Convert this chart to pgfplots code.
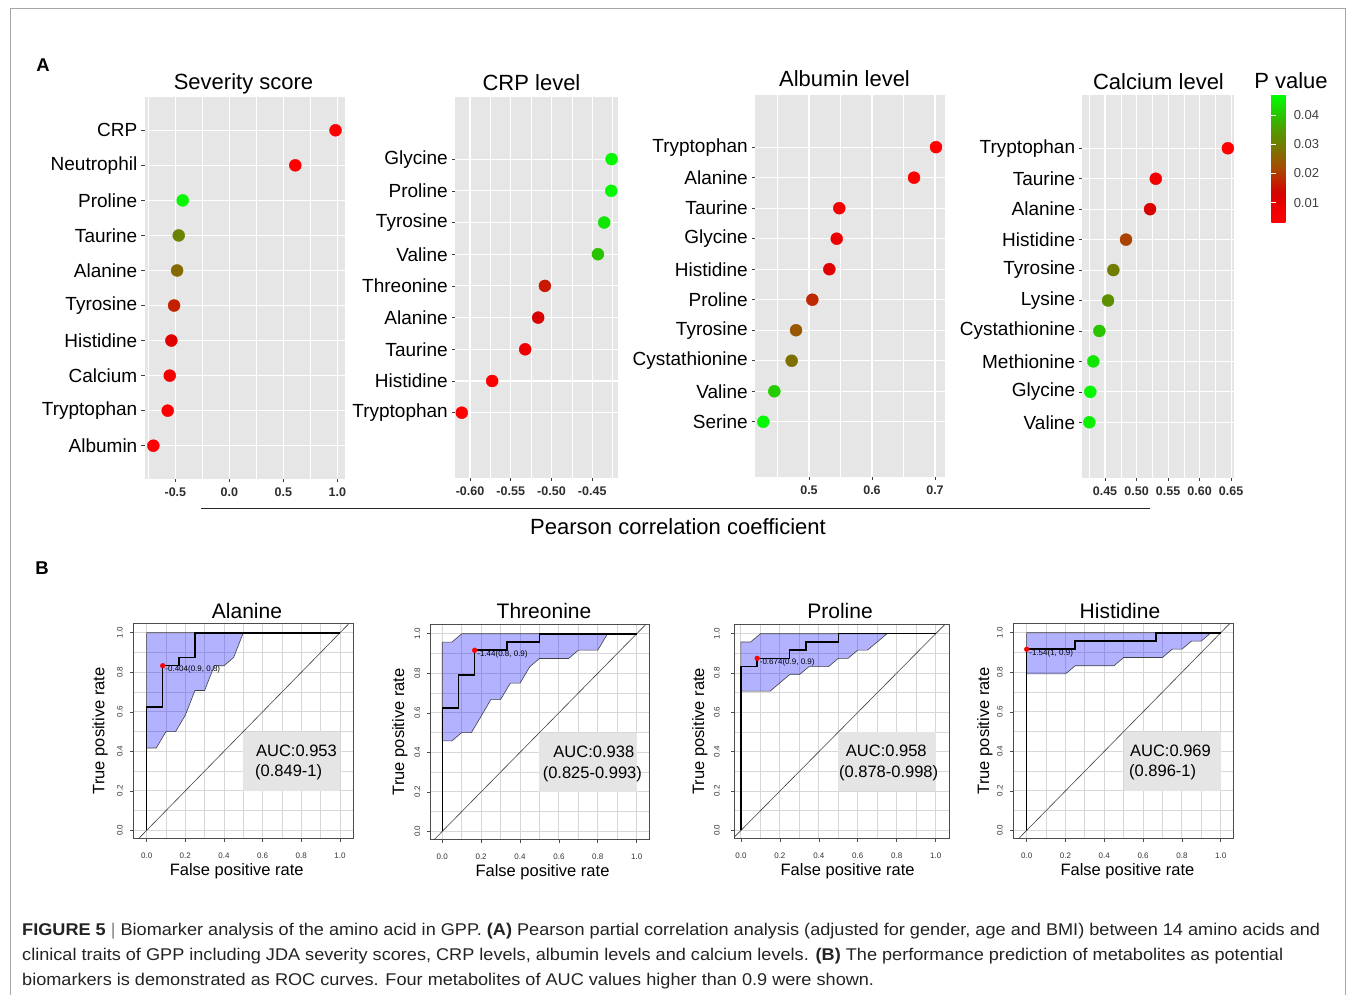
\documentclass[border=0pt]{standalone}
\usepackage{fontspec}
\setmainfont{Liberation Sans}
\usepackage{pgfplots}
\pgfplotsset{compat=1.18}
\usepackage{graphicx}

\definecolor{panelgrey}{RGB}{230,230,230}
\definecolor{ticktext}{RGB}{45,45,45}
\definecolor{tickgrey}{RGB}{60,60,60}
\definecolor{gridgrey}{RGB}{215,215,215}
\definecolor{aucgrey}{RGB}{229,229,229}
\definecolor{captext}{RGB}{35,35,35}

\pgfplotsset{
  colormap={pval}{rgb255(32pt)=(255,0,0); rgb255(80pt)=(238,0,0); rgb255(130pt)=(214,0,0);
    rgb255(180pt)=(190,40,0); rgb255(220pt)=(165,75,0); rgb255(260pt)=(140,100,0);
    rgb255(300pt)=(112,125,0); rgb255(350pt)=(80,155,0); rgb255(400pt)=(42,195,0); rgb255(468pt)=(0,255,0)},
  dotpanel/.style={
    scale only axis,
    axis background/.style={fill=panelgrey},
    axis line style={draw=none},
    grid=both,
    major grid style={white, line width=1.1pt},
    minor grid style={white, line width=0.55pt},
    tick align=outside,
    major tick length=3pt,
    minor tick length=0pt,
    tick style={color=tickgrey, line width=0.6pt},
    xtick pos=left, ytick pos=left,
    xticklabel style={font=\fontsize{12.5}{14}\selectfont\bfseries, text=ticktext, anchor=north, inner sep=0pt},
    xticklabel shift=6pt,
    yticklabel style={font=\fontsize{19}{22}\selectfont, text=black, anchor=east, inner sep=0pt},
    yticklabel shift=4pt,
    colormap name=pval,
    point meta min=0.0032, point meta max=0.0468,
  },
  dots/.style={scatter, only marks, mark=*, mark size=6pt, scatter src=explicit,
    scatter/use mapped color={draw=mapped color, fill=mapped color}},
  rocpanel/.style={
    scale only axis,
    width=220pt, height=215pt,
    ymin=-0.04, ymax=1.048,
    xtick={0,0.2,0.4,0.6,0.8,1}, xticklabels={0.0,0.2,0.4,0.6,0.8,1.0},
    ytick={0,0.2,0.4,0.6,0.8,1}, yticklabels={0.0,0.2,0.4,0.6,0.8,1.0},
    minor xtick={0.1,0.3,0.5,0.7,0.9}, minor ytick={0.1,0.3,0.5,0.7,0.9},
    grid=both,
    major grid style={gridgrey, line width=0.9pt},
    minor grid style={gridgrey, line width=0.9pt},
    minor tick length=0pt,
    tick align=outside, major tick length=3.5pt,
    tick style={black!70, line width=0.6pt},
    xtick pos=left, ytick pos=left,
    axis line style={black!70, line width=0.9pt},
    xticklabel style={font=\fontsize{8}{9}\selectfont, text=black!80, anchor=north, inner sep=0pt},
    xticklabel shift=10.5pt,
    yticklabel style={font=\fontsize{8}{9}\selectfont, text=black!80, rotate=90, anchor=south, inner sep=0pt},
    yticklabel shift=7pt,
    xlabel={False positive rate}, ylabel={True positive rate},
    label style={font=\fontsize{16.5}{19}\selectfont},
    xlabel style={anchor=base},
    ylabel style={anchor=center},
  },
  band/.style={fill=blue, fill opacity=0.3, draw=black!75, line width=0.6pt},
  diag/.style={black!75, line width=0.6pt},
  roc/.style={black, line width=1.5pt},
  cut/.style={only marks, mark=*, mark size=2.4pt, red, point meta=explicit symbolic,
    nodes near coords, nodes near coords style={anchor=west, font=\fontsize{8}{9}\selectfont, text=black, inner sep=0.5pt, xshift=2pt, yshift=-4pt}},
}
\newcommand\auctext{\fontsize{16.5}{19}\selectfont}
\newcommand\capfont{\fontsize{17}{20}\selectfont\color{captext}}
\newsavebox\capA
\newsavebox\capB
\newsavebox\capC

\begin{document}%
\sbox\capA{\capfont\textbf{FIGURE 5} \textcolor{gray}{|} Biomarker analysis of the amino acid in GPP. \textbf{(A)} Pearson partial correlation analysis (adjusted for gender, age and BMI) between 14 amino acids and}%
\sbox\capB{\capfont clinical traits of GPP including JDA severity scores, CRP levels, albumin levels and calcium levels. \textbf{(B)} The performance prediction of metabolites as potential}%
\sbox\capC{\capfont biomarkers is demonstrated as ROC curves. Four metabolites of AUC values higher than 0.9 were shown.}%
\pgfmathsetmacro\capsx{1298/\the\wd\capA}%
\begin{tikzpicture}[x=1pt,y=1pt]
\useasboundingbox (0,0) rectangle (1355,994);
\draw[gray!70, line width=0.9pt] (10,-5) -- (10,986) -- (1345,986) -- (1345,-5);

% panel labels
\node[font=\fontsize{18.5}{20}\selectfont\bfseries] at (43,929) {A};
\node[font=\fontsize{18.5}{20}\selectfont\bfseries] at (42,426) {B};

% titles
\node[anchor=base, font=\fontsize{22}{26}\selectfont] at (243.5,904.5) {Severity score};
\node[anchor=base, font=\fontsize{22}{26}\selectfont] at (531.5,903.3) {CRP level};
\node[anchor=base, font=\fontsize{22}{26}\selectfont] at (844.5,907.3) {Albumin level};
\node[anchor=base, font=\fontsize{22}{26}\selectfont] at (1158.5,904) {Calcium level};
\node[anchor=base, font=\fontsize{22}{26}\selectfont] at (1291,905.7) {P value};

% ---------- Panel A1: Severity score
\begin{axis}[dotpanel, at={(144.5pt,515pt)}, anchor=south west, width=200pt, height=382pt,
  xmin=-0.786, xmax=1.067, ymin=0.05, ymax=10.95,
  xtick={-0.5,0,0.5,1}, xticklabels={-0.5,0.0,0.5,1.0}, minor xtick={-0.75,-0.25,0.25,0.75},
  ytick={1,...,10}, yticklabels={Albumin,Tryptophan,Calcium,Histidine,Tyrosine,Alanine,Taurine,Proline,Neutrophil,CRP}]
\addplot[dots] table[x=r, y=i, meta=p] {
i r p
10 0.984 0.003
9 0.611 0.004
8 -0.432 0.046
7 -0.469 0.031
6 -0.484 0.027
5 -0.512 0.017
4 -0.537 0.011
3 -0.552 0.007
2 -0.571 0.005
1 -0.704 0.003
};
\end{axis}

% ---------- Panel A2: CRP level
\begin{axis}[dotpanel, at={(455pt,516pt)}, anchor=south west, width=163.3pt, height=381pt,
  xmin=-0.6184, xmax=-0.418, ymin=-1.06, ymax=10.96,
  xtick={-0.6,-0.55,-0.5,-0.45}, xticklabels={-0.60,-0.55,-0.50,-0.45}, minor xtick={-0.575,-0.525,-0.475,-0.425},
  ytick={1,...,9}, yticklabels={Tryptophan,Histidine,Taurine,Alanine,Threonine,Valine,Tyrosine,Proline,Glycine}]
\addplot[dots] table[x=r, y=i, meta=p] {
i r p
9 -0.4262 0.046
8 -0.4267 0.046
7 -0.4353 0.044
6 -0.443 0.040
5 -0.5081 0.016
4 -0.5163 0.013
3 -0.5323 0.008
2 -0.5728 0.004
1 -0.6101 0.003
};
\end{axis}

% ---------- Panel A3: Albumin level
\begin{axis}[dotpanel, at={(755pt,517pt)}, anchor=south west, width=190pt, height=382pt,
  xmin=0.4143, xmax=0.7159, ymin=-0.81, ymax=11.71,
  xtick={0.5,0.6,0.7}, xticklabels={0.5,0.6,0.7}, minor xtick={0.45,0.55,0.65},
  ytick={1,...,10}, yticklabels={Serine,Valine,Cystathionine,Tyrosine,Proline,Histidine,Glycine,Taurine,Alanine,Tryptophan}]
\addplot[dots] table[x=r, y=i, meta=p] {
i r p
10 0.7016 0.003
9 0.6667 0.004
8 0.5481 0.007
7 0.5440 0.008
6 0.5323 0.011
5 0.5053 0.018
4 0.4794 0.024
3 0.4725 0.028
2 0.4450 0.041
1 0.4275 0.046
};
\end{axis}

% ---------- Panel A4: Calcium level (with colour bar)
\begin{axis}[dotpanel, at={(1082.3pt,516pt)}, anchor=south west, width=152pt, height=383pt,
  xmin=0.414, xmax=0.655, ymin=-0.83, ymax=11.75,
  xtick={0.45,0.5,0.55,0.6,0.65}, xticklabels={0.45,0.50,0.55,0.60,0.65},
  minor xtick={0.425,0.475,0.525,0.575,0.625},
  ytick={1,...,10}, yticklabels={Valine,Glycine,Methionine,Cystathionine,Lysine,Tyrosine,Histidine,Alanine,Taurine,Tryptophan},
  colorbar,
  colorbar style={
    at={(parent axis.north east)}, anchor=north west, xshift=28.4pt,
    scale only axis, width=23.3pt, height=127.7pt,
    axis line style={draw=none},
    scaled y ticks=false,
    ytick={0.01,0.02,0.03,0.04}, yticklabels={0.01,0.02,0.03,0.04},
    ytick pos=both, yticklabel pos=right,
    tick align=inside, major tick length=4.7pt,
    ytick style={white, line width=0.8pt},
    yticklabel style={font=\fontsize{13}{15}\selectfont, text=black!75, anchor=west, inner sep=0pt},
    yticklabel shift=-1pt,
  }]
\addplot[dots] table[x=r, y=i, meta=p] {
i r p
10 0.6448 0.003
9 0.5305 0.007
8 0.5214 0.012
7 0.4833 0.021
6 0.4632 0.030
5 0.4548 0.033
4 0.4410 0.040
3 0.4314 0.044
2 0.4267 0.046
1 0.4251 0.045
};
\end{axis}

% common x label
\draw[black!85, line width=1.5pt] (201,485.7) -- (1150,485.7);
\node[anchor=base, font=\fontsize{22}{26}\selectfont] at (678,459) {Pearson correlation coefficient};

% ---------- ROC titles
\node[anchor=base, font=\fontsize{21}{24}\selectfont] at (247,375.7) {Alanine};
\node[anchor=base, font=\fontsize{21}{24}\selectfont] at (544,375.7) {Threonine};
\node[anchor=base, font=\fontsize{21}{24}\selectfont] at (840,375.7) {Proline};
\node[anchor=base, font=\fontsize{21}{24}\selectfont] at (1120,375.7) {Histidine};

% ---------- ROC Alanine
\begin{axis}[rocpanel, at={(133.3pt,155.7pt)}, anchor=south west, xmin=-0.069, xmax=1.069,
  xlabel style={at={(axis description cs:0.47,-0.171)}}, ylabel style={at={(axis description cs:-0.151,0.5)}}]
\fill[aucgrey] (axis cs:0.5,0.2) rectangle (axis cs:1,0.5);
\addplot[band] coordinates {(0,0.417) (0,1) (0.5,1) (0.45,0.875) (0.4,0.833) (0.35,0.833) (0.3,0.708) (0.25,0.708) (0.2,0.583) (0.15,0.5) (0.1,0.5) (0.05,0.417)} -- cycle;
\addplot[diag] coordinates {(-0.2,-0.2) (1.2,1.2)};
\addplot[roc] coordinates {(0,0) (0,0.625) (0.0833,0.625) (0.0833,0.8333) (0.1667,0.8333) (0.1667,0.875) (0.25,0.875) (0.25,1) (1,1)};
\addplot[cut] coordinates {(0.0833,0.8333) [{-0.404(0.9, 0.8)}]};
\node[anchor=west, font=\auctext] at (axis cs:0.548,0.405) {AUC:0.953};
\node[anchor=west, font=\auctext] at (axis cs:0.543,0.292) {(0.849-1)};
\end{axis}

% ---------- ROC Threonine
\begin{axis}[rocpanel, at={(430pt,154.7pt)}, anchor=south west, width=219.3pt, xmin=-0.063, xmax=1.065,
  xlabel style={at={(axis description cs:0.513,-0.171)}}, ylabel style={at={(axis description cs:-0.137,0.5)}}, yticklabel shift=6pt]
\fill[aucgrey] (axis cs:0.5,0.2) rectangle (axis cs:1,0.5);
\addplot[band] coordinates {(0,0.458) (0,0.958) (0.05,0.958) (0.1,1) (0.85,1) (0.8,0.917) (0.75,0.917) (0.7,0.917) (0.65,0.875) (0.6,0.875) (0.55,0.875) (0.5,0.875) (0.45,0.833) (0.4,0.75) (0.35,0.75) (0.3,0.667) (0.25,0.667) (0.2,0.583) (0.15,0.5) (0.1,0.5) (0.05,0.458)} -- cycle;
\addplot[diag] coordinates {(-0.2,-0.2) (1.2,1.2)};
\addplot[roc] coordinates {(0,0) (0,0.625) (0.0833,0.625) (0.0833,0.7917) (0.1667,0.7917) (0.1667,0.9167) (0.3333,0.9167) (0.3333,0.9583) (0.5,0.9583) (0.5,1) (1,1)};
\addplot[cut] coordinates {(0.1667,0.9167) [{-1.44(0.8, 0.9)}]};
\node[anchor=west, font=\auctext] at (axis cs:0.554,0.405) {AUC:0.938};
\node[anchor=west, font=\auctext] at (axis cs:0.499,0.288) {(0.825-0.993)};
\end{axis}

% ---------- ROC Proline
\begin{axis}[rocpanel, at={(734.3pt,155.7pt)}, anchor=south west, width=215pt, height=214pt, xmin=-0.034, xmax=1.07,
  xlabel style={at={(axis description cs:0.527,-0.172)}}, ylabel style={at={(axis description cs:-0.16,0.5)}}, yticklabel shift=11pt]
\fill[aucgrey] (axis cs:0.5,0.2) rectangle (axis cs:1,0.5);
\addplot[band] coordinates {(0,0.708) (0,0.958) (0.05,0.958) (0.1,1) (0.75,1) (0.7,0.958) (0.65,0.917) (0.6,0.917) (0.55,0.875) (0.5,0.875) (0.45,0.833) (0.4,0.833) (0.35,0.833) (0.3,0.792) (0.25,0.792) (0.2,0.75) (0.15,0.708) (0.1,0.708) (0.05,0.708)} -- cycle;
\addplot[diag] coordinates {(-0.2,-0.2) (1.2,1.2)};
\addplot[roc] coordinates {(0,0) (0,0.8333) (0.0833,0.8333) (0.0833,0.875) (0.25,0.875) (0.25,0.9167) (0.3333,0.9167) (0.3333,0.9583) (0.5,0.9583) (0.5,1) (1,1)};
\addplot[cut] coordinates {(0.0833,0.875) [{-0.674(0.9, 0.9)}]};
\node[anchor=west, font=\auctext] at (axis cs:0.521,0.405) {AUC:0.958};
\node[anchor=west, font=\auctext] at (axis cs:0.486,0.292) {(0.878-0.998)};
\end{axis}

% ---------- ROC Histidine
\begin{axis}[rocpanel, at={(1013.3pt,155.7pt)}, anchor=south west, xmin=-0.069, xmax=1.065,
  xlabel style={at={(axis description cs:0.519,-0.171)}}, ylabel style={at={(axis description cs:-0.129,0.5)}}]
\fill[aucgrey] (axis cs:0.5,0.2) rectangle (axis cs:1,0.5);
\addplot[band] coordinates {(0,0.792) (0,1) (0.95,1) (0.9,0.958) (0.85,0.958) (0.8,0.917) (0.75,0.917) (0.7,0.875) (0.5,0.875) (0.45,0.833) (0.25,0.833) (0.2,0.792)} -- cycle;
\addplot[diag] coordinates {(-0.2,-0.2) (1.2,1.2)};
\addplot[roc] coordinates {(0,0) (0,0.9167) (0.25,0.9167) (0.25,0.9583) (0.6667,0.9583) (0.6667,1) (1,1)};
\addplot[cut] coordinates {(0,0.9167) [{-1.54(1, 0.9)}]};
\node[anchor=west, font=\auctext] at (axis cs:0.515,0.405) {AUC:0.969};
\node[anchor=west, font=\auctext] at (axis cs:0.51,0.292) {(0.896-1)};
\end{axis}

% ---------- caption
\node[anchor=base west, inner sep=0pt] at (22,59) {\scalebox{\capsx}[1]{\usebox\capA}};
\node[anchor=base west, inner sep=0pt] at (22,34) {\scalebox{\capsx}[1]{\usebox\capB}};
\node[anchor=base west, inner sep=0pt] at (22,9) {\scalebox{\capsx}[1]{\usebox\capC}};
\end{tikzpicture}%
\end{document}
